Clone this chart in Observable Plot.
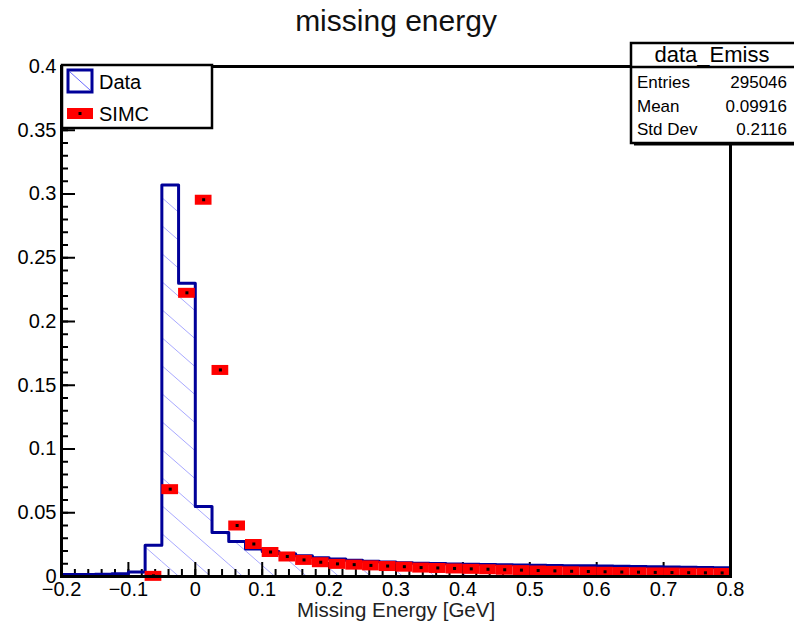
<!DOCTYPE html>
<html><head><meta charset="utf-8">
<script src="https://cdn.jsdelivr.net/npm/d3@7"></script>
<script src="https://cdn.jsdelivr.net/npm/@observablehq/plot@0.6"></script>
<style>body{margin:0;background:#fff}#chart svg{display:block}</style>
</head><body><div id="chart"></div>
<script>
// Data histogram: lower bin edges (bin width 0.025 GeV) and contents
const binLow = [-0.2,-0.175,-0.15,-0.125,-0.1,-0.075,-0.05,-0.025,0,0.025,0.05,0.075,0.1,0.125,0.15,0.175,0.2,0.225,0.25,0.275,0.3,0.325,0.35,0.375,0.4,0.425,0.45,0.475,0.5,0.525,0.55,0.575,0.6,0.625,0.65,0.675,0.7,0.725,0.75,0.775];
const dataValues = [0.0015,0.0016,0.0018,0.0022,0.0035,0.0245,0.307,0.230,0.055,0.0345,0.0275,0.0215,0.0196,0.0178,0.0163,0.0148,0.0137,0.0128,0.0120,0.0114,0.0108,0.0104,0.0101,0.0098,0.0096,0.0094,0.0092,0.0090,0.0088,0.0086,0.0085,0.0084,0.0082,0.0080,0.0078,0.0077,0.0075,0.0073,0.0071,0.0069];
// SIMC points: bin centers and contents
const simcCenters = [-0.0625,-0.0375,-0.0125,0.0125,0.0375,0.0625,0.0875,0.1125,0.1375,0.1625,0.1875,0.2125,0.2375,0.2625,0.2875,0.3125,0.3375,0.3625,0.3875,0.4125,0.4375,0.4625,0.4875,0.5125,0.5375,0.5625,0.5875,0.6125,0.6375,0.6625,0.6875,0.7125,0.7375,0.7625,0.7875];
const simcValues = [0.0005,0.0685,0.2225,0.2955,0.162,0.040,0.0255,0.0192,0.0157,0.0130,0.0112,0.0099,0.0093,0.0087,0.0082,0.0077,0.0070,0.0067,0.0063,0.0060,0.0057,0.0053,0.0050,0.0047,0.0044,0.0041,0.0039,0.0037,0.0035,0.0034,0.0032,0.0031,0.0030,0.0029,0.0028];
const xTicks = [-0.2,-0.1,0,0.1,0.2,0.3,0.4,0.5,0.6,0.7,0.8];
const yTicks = [0,0.05,0.1,0.15,0.2,0.25,0.3,0.35,0.4];
const statsTitle = "data_Emiss";
const statsLabels = ["Entries","Mean","Std Dev"];
const statsValues = ["295046","0.09916","0.2116"];
const binWidth = 0.025;

const bins = binLow.map((x, i) => ({x1: x, x2: x + binWidth, v: dataValues[i]}));
const outline = bins.flatMap(b => [{x: b.x1, v: b.v}, {x: b.x2, v: b.v}]);
const simc = simcCenters.map((c, i) => ({c, v: simcValues[i]}));
const xMinor = d3.range(-0.2, 0.8001, 0.02);
const yMinor = d3.range(0, 0.4001, 0.01);

const W = 794, H = 627, mL = 61, mR = 64, mT = 66, mB = 51;
const fw = W - mL - mR, fh = H - mT - mB;
const blue = "#000099";

const svg = Plot.plot({
  width: W, height: H,
  marginLeft: mL, marginRight: mR, marginTop: mT, marginBottom: mB,
  style: {fontFamily: "'Liberation Sans', Arial, sans-serif", background: "#fff", color: "#000"},
  x: {domain: [-0.2, 0.8]},
  y: {domain: [0, 0.4]},
  marks: [
    Plot.rect(bins, {x1: "x1", x2: "x2", y1: 0, y2: "v", fill: "url(#hatch)"}),
    Plot.tickX(xMinor, {x: d => d, stroke: "#000", strokeWidth: 2, insetTop: fh - 7}),
    Plot.tickX(xTicks, {x: d => d, stroke: "#000", strokeWidth: 2, insetTop: fh - 14}),
    Plot.tickY(yMinor, {y: d => d, stroke: "#000", strokeWidth: 2, insetRight: fw - 7}),
    Plot.tickY(yTicks, {y: d => d, stroke: "#000", strokeWidth: 2, insetRight: fw - 14}),
    Plot.line(outline, {x: "x", y: "v", stroke: blue, strokeWidth: 3}),
    Plot.ruleY(simc, {y: "v", x1: d => d.c - binWidth / 2, x2: d => d.c + binWidth / 2, stroke: "#ff0000", strokeWidth: 10}),
    Plot.dot(simc, {x: "c", y: "v", symbol: "square", r: 1.7, fill: "#000"}),
    Plot.axisX({ticks: xTicks, tickSize: 0, tickPadding: 5, fontSize: 20, tickFormat: "~g", label: null}),
    Plot.axisY({ticks: yTicks, tickSize: 0, tickPadding: 5, fontSize: 20, tickFormat: "~g", label: null}),
    Plot.frame({stroke: "#000", strokeWidth: 3}),
    Plot.text(["Missing Energy [GeV]"], {frameAnchor: "bottom", lineAnchor: "middle", dy: 34, fontSize: 20.5, fill: "#222"}),
    Plot.text(["missing energy"], {frameAnchor: "top", lineAnchor: "middle", dy: -45, fontSize: 30, fill: "#111"})
  ]
});

const s = d3.select(svg);
const defs = s.insert("defs", ":first-child");
const pat = defs.append("pattern").attr("id", "hatch").attr("patternUnits", "userSpaceOnUse")
  .attr("width", 32).attr("height", 28);
pat.append("path").attr("d", "M0,0L32,28M-4,24.5L4,31.5M28,-3.5L36,3.5")
  .attr("stroke", "#a8a8ff").attr("stroke-width", 1).attr("fill", "none");

// Legend box
const lg = s.append("g").attr("text-anchor", "start").attr("font-family", "'Liberation Sans', Arial, sans-serif");
lg.append("rect").attr("x", 62).attr("y", 65).attr("width", 150).attr("height", 63)
  .attr("fill", "#fff").attr("stroke", "#000").attr("stroke-width", 2.5);
lg.append("rect").attr("x", 68).attr("y", 70).attr("width", 24).attr("height", 22)
  .attr("fill", "#fff").attr("stroke", blue).attr("stroke-width", 3);
lg.append("line").attr("x1", 70).attr("y1", 72).attr("x2", 90).attr("y2", 90)
  .attr("stroke", "#6a6aff").attr("stroke-width", 1);
lg.append("text").attr("x", 99).attr("y", 89).attr("font-size", 20).attr("text-anchor", "start").text("Data");
lg.append("rect").attr("x", 67).attr("y", 108).attr("width", 26).attr("height", 11).attr("fill", "#ff0000");
lg.append("rect").attr("x", 78.5).attr("y", 112).attr("width", 3).attr("height", 3).attr("fill", "#000");
lg.append("text").attr("x", 99).attr("y", 121).attr("font-size", 20).attr("text-anchor", "start").text("SIMC");

// Stats box
const st = s.append("g").attr("font-family", "'Liberation Sans', Arial, sans-serif");
st.append("rect").attr("x", 631).attr("y", 43).attr("width", 170).attr("height", 100)
  .attr("fill", "#fff").attr("stroke", "#000").attr("stroke-width", 2.5);
st.append("line").attr("x1", 631).attr("x2", 794).attr("y1", 67).attr("y2", 67)
  .attr("stroke", "#000").attr("stroke-width", 2.5);
st.append("line").attr("x1", 634).attr("x2", 794).attr("y1", 144.5).attr("y2", 144.5)
  .attr("stroke", "#000").attr("stroke-width", 2);
st.append("text").attr("x", 712).attr("y", 62).attr("font-size", 22).attr("text-anchor", "middle").text(statsTitle);
statsLabels.forEach((l, i) => {
  const y = 88 + i * 23.5;
  st.append("text").attr("x", 637).attr("y", y).attr("font-size", 17).attr("text-anchor", "start").text(l);
  st.append("text").attr("x", 787).attr("y", y).attr("font-size", 17).attr("text-anchor", "end").text(statsValues[i]);
});

document.getElementById("chart").appendChild(svg);
</script>
</body></html>
